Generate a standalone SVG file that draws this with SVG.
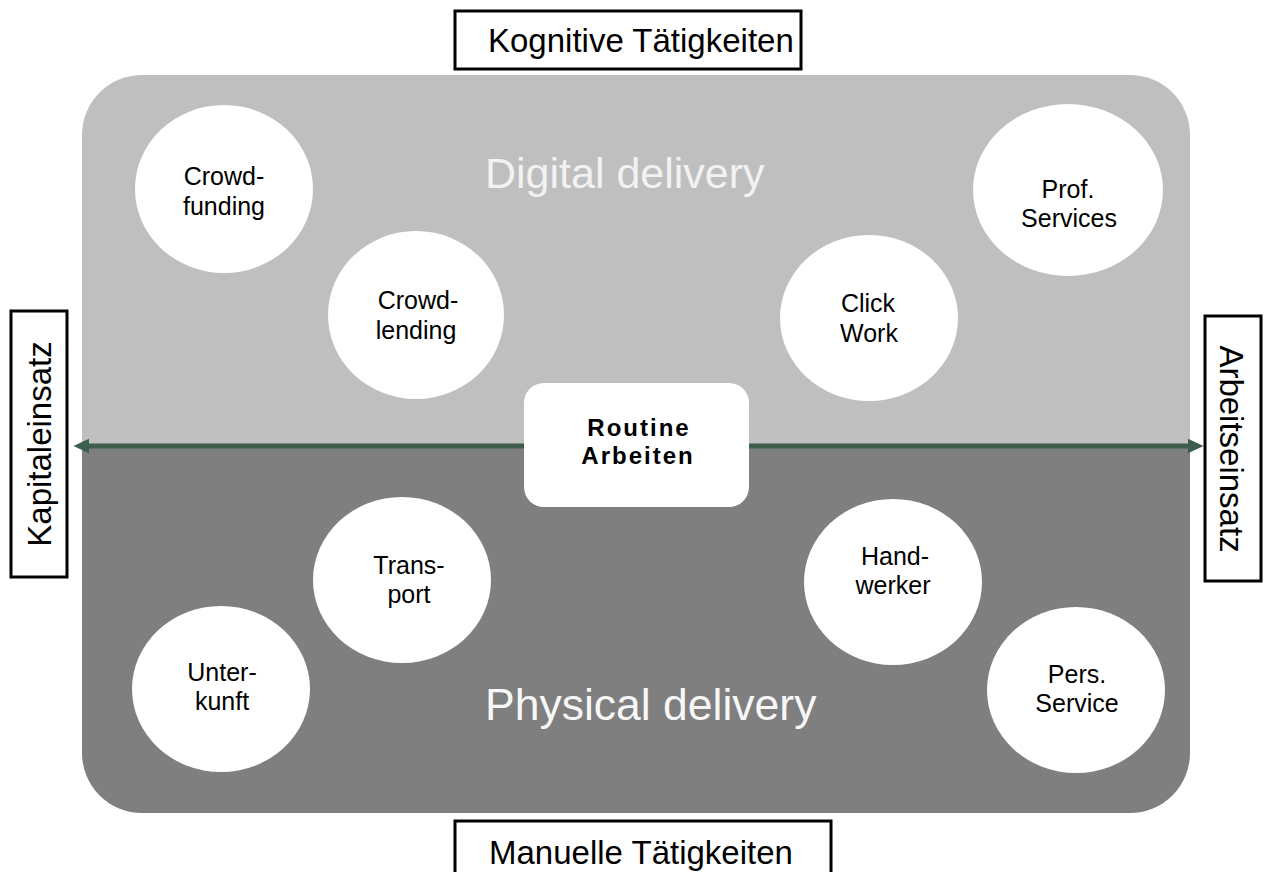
<svg xmlns="http://www.w3.org/2000/svg" width="1270" height="872" viewBox="0 0 1270 872">
  <style>
    .lbl { font-family: "Liberation Sans", Arial, sans-serif; font-size: 33px; fill: #000; }
    .lblbox { fill: #fff; stroke: #000; stroke-width: 3; }
    .circ { fill: #fff; }
    .ct { font-family: "Liberation Sans", Arial, sans-serif; font-size: 25px; fill: #000; text-anchor: middle; }
    .big { font-family: "Liberation Sans", Arial, sans-serif; text-anchor: start; }
    .rt { font-family: "Liberation Sans", Arial, sans-serif; font-weight: bold; font-size: 24px; letter-spacing: 2px; fill: #000; text-anchor: middle; }
  </style>
  <defs>
    <marker id="ah" markerUnits="userSpaceOnUse" markerWidth="16" markerHeight="16" viewBox="0 0 15 14" refX="7" refY="7" orient="auto-start-reverse">
      <path d="M0,0 L15,7 L0,14 Z" fill="#3d5e4c"/>
    </marker>
  </defs>
  <rect width="1270" height="872" fill="#fff"/>

  <g id="region-digital">
    <path d="M82,446 V135 A60,60 0 0 1 142,75 H1130 A60,60 0 0 1 1190,135 V446 Z" fill="#bfbfbf"/>
    <text class="big" x="485" y="188" font-size="43" fill="#f2f2f2">Digital delivery</text>
  </g>
  <g id="region-physical">
    <path d="M82,446 H1190 V753 A60,60 0 0 1 1130,813 H142 A60,60 0 0 1 82,753 Z" fill="#7f7f7f"/>
    <text class="big" x="485" y="720" font-size="44.5" fill="#f7f7f7">Physical delivery</text>
  </g>

  <g id="connectors">
    <path d="M82,446 H1195" stroke="#3d5e4c" stroke-width="5" fill="none" marker-start="url(#ah)" marker-end="url(#ah)"/>
  </g>

  <g id="label-kognitive">
    <rect class="lblbox" x="455" y="11" width="346" height="58"/>
    <text class="lbl" x="488" y="52">Kognitive Tätigkeiten</text>
  </g>
  <g id="label-manuelle">
    <rect class="lblbox" x="455" y="821" width="376" height="70"/>
    <text class="lbl" x="489" y="864">Manuelle Tätigkeiten</text>
  </g>
  <g id="label-kapital">
    <rect class="lblbox" x="11" y="311" width="56" height="266"/>
    <text class="lbl" text-anchor="middle" transform="translate(51,444) rotate(-90)">Kapitaleinsatz</text>
  </g>
  <g id="label-arbeit">
    <rect class="lblbox" x="1205" y="316" width="56" height="265"/>
    <text class="lbl" text-anchor="middle" transform="translate(1220,449) rotate(90)">Arbeitseinsatz</text>
  </g>

  <g id="node-crowdfunding">
    <ellipse class="circ" cx="224" cy="189" rx="89" ry="84"/>
    <text class="ct" x="224" y="185">Crowd-</text>
    <text class="ct" x="224" y="215">funding</text>
  </g>
  <g id="node-crowdlending">
    <ellipse class="circ" cx="416" cy="315" rx="88" ry="84"/>
    <text class="ct" x="418" y="309">Crowd-</text>
    <text class="ct" x="416" y="339">lending</text>
  </g>
  <g id="node-clickwork">
    <ellipse class="circ" cx="869" cy="318" rx="89" ry="83"/>
    <text class="ct" x="868" y="312">Click</text>
    <text class="ct" x="869" y="342">Work</text>
  </g>
  <g id="node-profservices">
    <ellipse class="circ" cx="1068" cy="190" rx="95" ry="86"/>
    <text class="ct" x="1068" y="198">Prof.</text>
    <text class="ct" x="1069" y="227">Services</text>
  </g>
  <g id="node-transport">
    <ellipse class="circ" cx="402" cy="580" rx="89" ry="83"/>
    <text class="ct" x="409" y="574">Trans-</text>
    <text class="ct" x="409" y="603">port</text>
  </g>
  <g id="node-handwerker">
    <ellipse class="circ" cx="893" cy="582" rx="89" ry="83"/>
    <text class="ct" x="895" y="565">Hand-</text>
    <text class="ct" x="893" y="594">werker</text>
  </g>
  <g id="node-unterkunft">
    <ellipse class="circ" cx="221" cy="689" rx="89" ry="83"/>
    <text class="ct" x="222" y="681">Unter-</text>
    <text class="ct" x="222" y="710">kunft</text>
  </g>
  <g id="node-persservice">
    <ellipse class="circ" cx="1076" cy="690" rx="89" ry="83"/>
    <text class="ct" x="1077" y="683">Pers.</text>
    <text class="ct" x="1077" y="712">Service</text>
  </g>

  <g id="node-routine">
    <rect x="524" y="383" width="225" height="124" rx="20" ry="20" fill="#fff"/>
    <text class="rt" x="639" y="436">Routine</text>
    <text class="rt" x="638" y="464">Arbeiten</text>
  </g>
</svg>
